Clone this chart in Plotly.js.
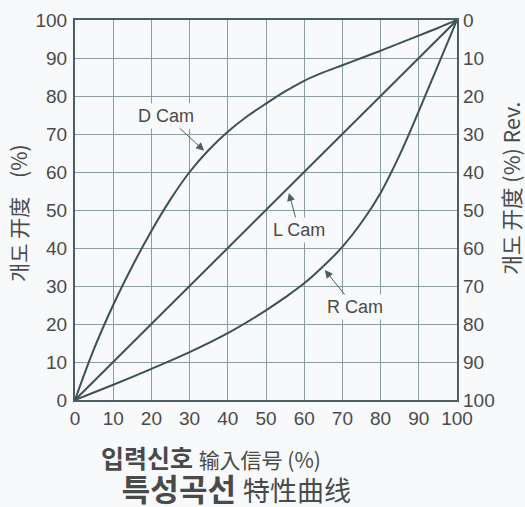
<!DOCTYPE html>
<html>
<head>
<meta charset="utf-8">
<script src="https://cdn.plot.ly/plotly-3.0.1.min.js"></script>
<style>html,body{margin:0;padding:0;background:#f7f9fa;}</style>
</head>
<body>
<div id="chart" style="width:525px;height:507px;"></div>
<script>
// Input signal (%) vs opening (%)
const dCamX = [0, 5, 10, 15, 20, 25, 30, 35, 40, 45, 50, 55, 60, 65, 70, 75, 80, 85, 90, 95, 100];
const dCamY = [0, 13.5, 25, 35.2, 44.5, 52.8, 60, 65.8, 70.6, 74.6, 78, 81.2, 84, 86.2, 88.1, 90, 91.9, 93.9, 95.9, 97.9, 100];
const lCamX = [0, 100];
const lCamY = [0, 100];
const rCamX = [0, 10, 20, 30, 40, 50, 55, 60, 65, 70, 75, 80, 85, 90, 95, 100];
const rCamY = [0, 4, 8.2, 12.6, 17.6, 23.6, 27, 30.7, 35.2, 40.3, 46.7, 54.5, 64.5, 76, 88, 100];
const tickVals = [0, 10, 20, 30, 40, 50, 60, 70, 80, 90, 100];
const tickText = ['0','10','20','30','40','50','60','70','80','90','100'];

const lineColor = '#3d5156';
const gridColor = '#8c9ca0';
const textColor = '#4a4a4a';
const bg = '#f7f9fa';
const latin = 'Liberation Sans, Arial, sans-serif';
const cjkKR = 'Noto Sans CJK KR, sans-serif';

const mk = (x, y, name) => ({
  x: x, y: y, name: name, type: 'scatter', mode: 'lines',
  line: {color: lineColor, width: 2, shape: 'spline', smoothing: 1},
  hoverinfo: 'skip', showlegend: false
});

const traces = [
  mk(dCamX, dCamY, 'D Cam'),
  mk(lCamX, lCamY, 'L Cam'),
  mk(rCamX, rCamY, 'R Cam'),
  {x: [0], y: [0], yaxis: 'y2', type: 'scatter', mode: 'markers',
   marker: {opacity: 0}, hoverinfo: 'skip', showlegend: false}
];

const tickFont = {family: latin, size: 19, color: textColor};

const layout = {
  width: 525, height: 507,
  margin: {l: 75, r: 68, t: 20, b: 107},
  paper_bgcolor: bg, plot_bgcolor: bg,
  showlegend: false,
  xaxis: {
    range: [0, 100], tickvals: tickVals, ticktext: tickText,
    showgrid: true, gridcolor: gridColor, gridwidth: 1,
    zeroline: false, showline: true, mirror: true,
    linecolor: '#4d5e62', linewidth: 2, ticks: '', ticklabelstandoff: 0,
    tickfont: tickFont, fixedrange: true
  },
  yaxis: {
    range: [0, 100], tickvals: tickVals, ticktext: tickText,
    showgrid: true, gridcolor: gridColor, gridwidth: 1,
    zeroline: false, showline: true, mirror: true,
    linecolor: '#4d5e62', linewidth: 2, ticks: '', ticklabelstandoff: 2,
    tickfont: tickFont, fixedrange: true
  },
  yaxis2: {
    overlaying: 'y', side: 'right', range: [100, 0],
    tickvals: tickVals, ticktext: tickText,
    showgrid: false, zeroline: false, showline: false, ticks: '', ticklabelstandoff: 5,
    tickfont: tickFont, fixedrange: true
  },
  annotations: [
    {x: 33.8, y: 65.6, xref: 'x', yref: 'y', text: 'D Cam', showarrow: true,
     ax: -38, ay: -35, arrowhead: 2, arrowsize: 1.6, arrowwidth: 1, arrowcolor: '#4d5e62',
     font: {family: latin, size: 18, color: textColor}, bgcolor: bg, borderpad: 2},
    {x: 56, y: 54.5, xref: 'x', yref: 'y', text: 'L Cam', showarrow: true,
     ax: 10, ay: 37, arrowhead: 2, arrowsize: 1.6, arrowwidth: 1, arrowcolor: '#4d5e62',
     font: {family: latin, size: 18, color: textColor}, bgcolor: bg, borderpad: 2},
    {x: 65.4, y: 34.2, xref: 'x', yref: 'y', text: 'R Cam', showarrow: true,
     ax: 30, ay: 37, arrowhead: 2, arrowsize: 1.6, arrowwidth: 1, arrowcolor: '#4d5e62',
     font: {family: latin, size: 18, color: textColor}, bgcolor: bg, borderpad: 2},
    {x: -0.149, y: 0.492, xref: 'paper', yref: 'paper', xanchor: 'center', yanchor: 'middle',
     showarrow: false, textangle: -90,
     text: '개도 开度\u00a0\u00a0\u00a0\u00a0(%)', font: {family: cjkKR, size: 21, color: textColor}},
    {x: 1.141, y: 0.558, xref: 'paper', yref: 'paper', xanchor: 'center', yanchor: 'middle',
     showarrow: false, textangle: -90,
     text: '개도 开度 (%) Rev.', font: {family: cjkKR, size: 21.5, color: textColor}},
    {x: 0.065, y: -0.100, xref: 'paper', yref: 'paper', xanchor: 'left', yanchor: 'top',
     align: 'left', showarrow: false, borderpad: 0,
     text: '<b>입력신호</b> <span style="font-size:21px">输入信号 (%)</span><br>' +
           '<span style="font-size:31px">\u00a0\u00a0\u00a0<b>특성곡선</b> <span style="font-size:27px">特性曲线</span></span>',
     font: {family: cjkKR, size: 25, color: textColor}}
  ]
};

Plotly.newPlot('chart', traces, layout, {displayModeBar: false, staticPlot: true});
</script>
</body>
</html>
